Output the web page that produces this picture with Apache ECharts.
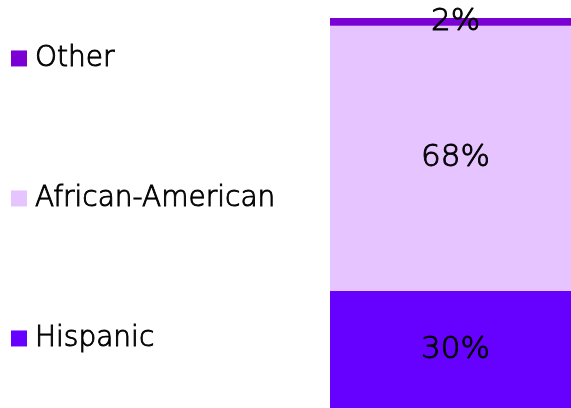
<!doctype html>
<html>
<head>
<meta charset="UTF-8">
<title>Ethnicity</title>
<script src="https://cdn.jsdelivr.net/npm/echarts@6/dist/echarts.min.js"></script>
<style>
  html, body { margin: 0; padding: 0; background: #fff; }
  #chart { width: 571px; height: 408px; }
</style>
</head>
<body>
<div id="chart"></div>
<script>
var categories = ['All'];
var names = ['Hispanic', 'African-American', 'Other'];
var hispanic = [30];
var african = [68];
var other = [2];
var colors = ['#6600ff', '#e6c4ff', '#7a00d4'];

var font = 'DejaVu Sans';
var chart = echarts.init(document.getElementById('chart'));

function legendAt(name, top) {
  return {
    data: [name],
    left: 6,
    top: top,
    orient: 'vertical',
    icon: 'rect',
    itemWidth: 16,
    itemHeight: 16,
    selectedMode: false,
    textStyle: {
      fontFamily: font, fontWeight: 300, fontSize: 28, color: '#000',
      textBorderColor: '#000', textBorderWidth: 0.9, padding: [0, 0, 0, 3]
    }
  };
}

function series(name, data, color) {
  return {
    name: name,
    type: 'bar',
    stack: 'total',
    barWidth: '100%',
    data: data,
    itemStyle: { color: color },
    label: {
      show: true,
      position: 'inside',
      offset: [5, 0],
      formatter: '{c}%',
      fontFamily: font,
      fontWeight: 300,
      fontSize: 31,
      color: '#000',
      textBorderColor: '#000',
      textBorderWidth: 0.9
    }
  };
}

chart.setOption({
  animation: false,
  legend: [
    legendAt('Other', 39),
    legendAt('African-American', 179),
    legendAt('Hispanic', 319)
  ],
  grid: { left: 330, top: 18, bottom: 0, width: 250 },
  xAxis: { type: 'category', data: categories, show: false },
  yAxis: { type: 'value', min: 0, max: 100, show: false },
  series: [
    series(names[0], hispanic, colors[0]),
    series(names[1], african, colors[1]),
    series(names[2], other, colors[2])
  ]
});
</script>
</body>
</html>
